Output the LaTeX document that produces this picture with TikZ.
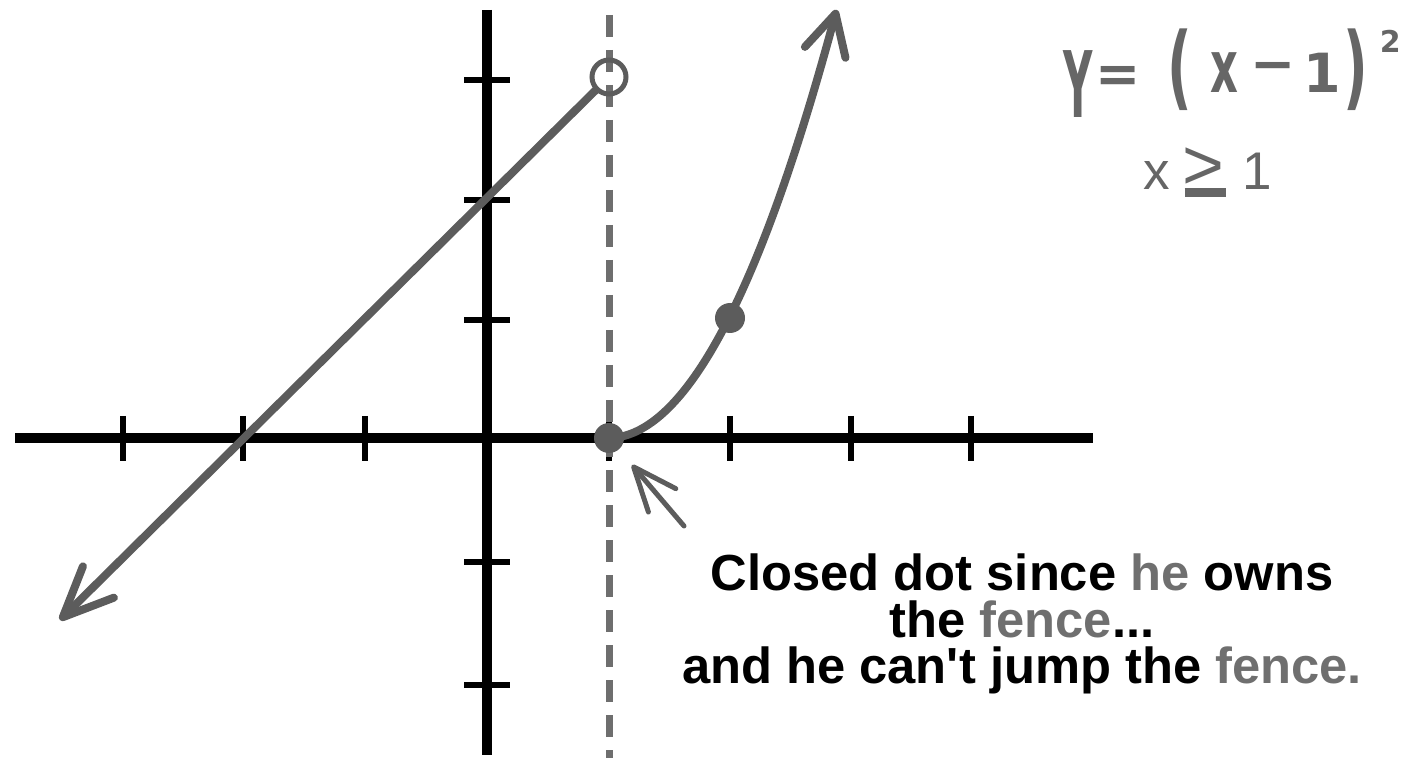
\documentclass[tikz,border=0pt]{standalone}
\usepackage{fontspec}
\setmainfont{Liberation Sans}[Ligatures=TeXOff]
\newfontfamily\handfont{DejaVu Sans}
\usetikzlibrary{arrows.meta}
\definecolor{curvegray}{HTML}{5C5C5C}
\definecolor{dashgray}{HTML}{6E6E6E}
\definecolor{textgray}{HTML}{6F6F6F}
\definecolor{eqgray}{HTML}{666666}
\newcommand{\thickul}[1]{\setbox0=\hbox{#1}\rlap{\hspace{0.04em}\rule[-0.13em]{\wd0}{0.17em}}\box0}
\newcommand{\gl}[1]{\makebox[0pt][c]{#1}}
\begin{document}
\begin{tikzpicture}[x=0.5pt,y=-0.5pt]
\tikzset{
  axis/.style={line width=5pt, black},
  tickmark/.style={line width=3pt, black},
  graphline/.style={line width=4pt, curvegray, line cap=round},
  fence/.style={line width=3.5pt, dashgray, dash pattern=on 11pt off 6.5pt},
  dotnode/.style={circle, fill=curvegray, inner sep=0pt, minimum size=15pt},
  opendot/.style={circle, draw=curvegray, line width=2.5pt, inner sep=0pt, minimum size=17pt},
  lbl/.style={font=\bfseries\fontsize{25.35}{23}\selectfont, inner sep=0pt, anchor=base},
}
\useasboundingbox (0,0) rectangle (1417,758);
% axes
\coordinate (xl) at (15,438);
\coordinate (xr) at (1093,438);
\coordinate (yt) at (487,10);
\coordinate (yb) at (487,755);
\draw[axis] (xl) -- (xr);
\draw[axis] (yt) -- (yb);
\foreach \t in {123,243,365,609,730,851,971} \draw[tickmark] (\t,416) -- (\t,461);
\foreach \t in {80,200,320,562,685} \draw[tickmark] (464,\t) -- (510,\t);
% fence
\coordinate (ftop) at (609,15);
\coordinate (fbot) at (609,758);
\draw[fence] (ftop) -- (fbot);
% line y = x + 2
\node[opendot] (opn) at (609,77) {};
\coordinate (llend) at (60,620);
\draw[graphline, -{Straight Barb[length=25pt,width=22pt,round]}] (opn) -- (llend);
% parabola
\draw[graphline, -{Straight Barb[length=20pt,width=21pt,round]}]
  plot[domain=1:2.89, samples=80, smooth] ({487+121*\x},{438-120*(\x-1)^2});
\node[dotnode] (d1) at (609,438) {};
\node[dotnode] (d2) at (730,318) {};
% pointer arrow
\coordinate (ptail) at (684,526);
\draw[line width=2.5pt, curvegray, line cap=round, shorten >=10pt,
  -{Straight Barb[length=22pt,width=18pt,round]}] (ptail) -- (d1);
% texts
\node[lbl] (t1) at (1022,590) {Closed dot since \textcolor{textgray}{he} owns};
\node[lbl] (t2) at (1022,637) {the \textcolor{textgray}{fence}...};
\node[lbl] (t3) at (1022,683) {and he can't jump the \textcolor{textgray}{fence.}};
\node[anchor=base west, inner sep=0pt, text=eqgray, font=\handfont\bfseries\fontsize{27}{27}\selectfont] (eq) at (1078,93)
  {\gl{\raisebox{-12.5pt}{\scalebox{0.75}[1.7]{Y}}}\hspace{20pt}\gl{=}\hspace{30.5pt}\gl{\raisebox{-3pt}{\scalebox{1}[1.7]{(}}}\hspace{22.5pt}\gl{\scalebox{0.8}[1.35]{x}}\hspace{24.5pt}\gl{\raisebox{5pt}{−}}\hspace{24.5pt}\gl{1}\hspace{16.5pt}\gl{\raisebox{-3pt}{\scalebox{1}[1.7]{)}}}\hspace{17.5pt}\gl{\raisebox{20pt}{\fontsize{15}{15}\selectfont 2}}};
\node[anchor=base west, inner sep=0pt, text=eqgray, font=\fontsize{26.5}{26.5}\selectfont] (cond) at (1143,190)
  {x\hspace{6.25pt}\thickul{\scalebox{1.35}{>}}\hspace{9pt}1};
\end{tikzpicture}
\end{document}
